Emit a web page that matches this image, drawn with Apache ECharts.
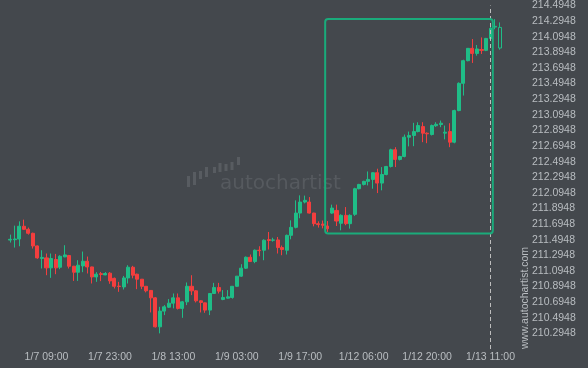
<!DOCTYPE html>
<html>
<head>
<meta charset="utf-8">
<script src="https://cdn.jsdelivr.net/npm/echarts@6/dist/echarts.min.js"></script>
<style>
html,body{margin:0;padding:0;background:#44484d;}
#c{width:588px;height:368px;}
</style>
</head>
<body>
<div id="c"></div>
<script>
// ---- data ----
var categories = [
'1/7 01:00','1/7 02:00','1/7 03:00','1/7 04:00','1/7 05:00','1/7 06:00','1/7 07:00','1/7 08:00','1/7 09:00','1/7 10:00','1/7 11:00','1/7 12:00','1/7 13:00','1/7 14:00','1/7 15:00','1/7 16:00','1/7 17:00','1/7 18:00','1/7 19:00','1/7 20:00','1/7 21:00','1/7 22:00','1/7 23:00',
'1/8 00:00','1/8 01:00','1/8 02:00','1/8 03:00','1/8 04:00','1/8 05:00','1/8 06:00','1/8 07:00','1/8 08:00','1/8 09:00','1/8 10:00','1/8 11:00','1/8 12:00','1/8 13:00','1/8 14:00','1/8 15:00','1/8 16:00','1/8 17:00','1/8 18:00','1/8 19:00','1/8 20:00','1/8 21:00','1/8 22:00','1/8 23:00',
'1/9 00:00','1/9 01:00','1/9 02:00','1/9 03:00','1/9 04:00','1/9 05:00','1/9 06:00','1/9 07:00','1/9 08:00','1/9 09:00','1/9 10:00','1/9 11:00','1/9 12:00','1/9 13:00','1/9 14:00','1/9 15:00','1/9 16:00','1/9 17:00','1/9 18:00','1/9 19:00','1/9 20:00','1/9 21:00','1/9 22:00','1/9 23:00',
'1/11 23:00',
'1/12 00:00','1/12 01:00','1/12 02:00','1/12 03:00','1/12 04:00','1/12 05:00','1/12 06:00','1/12 07:00','1/12 08:00','1/12 09:00','1/12 10:00','1/12 11:00','1/12 12:00','1/12 13:00','1/12 14:00','1/12 15:00','1/12 16:00','1/12 17:00','1/12 18:00','1/12 19:00','1/12 20:00','1/12 21:00',
'1/12 23:00',
'1/13 00:00','1/13 01:00','1/13 02:00','1/13 03:00','1/13 04:00','1/13 05:00','1/13 06:00','1/13 07:00','1/13 08:00','1/13 09:00','1/13 10:00','1/13 11:00','1/13 12:00','1/13 13:00'
];
var opens = [
211.490,211.495,211.504,211.667,211.628,211.577,211.415,211.255,211.262,211.134,
211.241,211.142,211.275,211.292,211.155,211.078,211.159,211.219,211.146,211.018,
211.060,211.044,211.066,211.000,210.900,210.890,211.005,211.142,211.053,210.989,
210.898,210.845,210.750,210.379,210.580,210.630,210.682,210.750,210.615,210.699,
210.898,210.840,210.712,210.686,210.593,210.806,210.883,210.730,210.746,210.755,
210.898,211.028,211.130,211.270,211.215,211.360,211.360,211.496,211.488,211.492,
211.394,211.360,211.551,211.653,211.836,211.977,211.977,211.836,211.700,211.695,
211.670,211.836,211.870,211.705,211.807,211.700,211.820,212.148,212.203,212.242,
212.267,212.353,212.220,212.330,212.433,212.647,212.523,212.561,212.808,212.830,
212.880,212.944,212.859,212.842,212.955,212.970,212.860,212.880,212.744,213.149,
213.498,213.788,213.946,213.881,213.930,213.920,214.073,214.218,214.214
];
var closes = [
211.500,211.504,211.667,211.628,211.577,211.415,211.262,211.268,211.134,211.254,
211.134,211.283,211.300,211.155,211.078,211.168,211.219,211.146,211.018,211.053,
211.050,211.062,210.967,210.898,210.895,211.005,211.142,211.040,210.989,210.898,
210.840,210.750,210.379,210.580,210.635,210.682,210.750,210.615,210.699,210.898,
210.840,210.712,210.691,210.593,210.806,210.883,210.836,210.755,210.763,210.898,
211.028,211.130,211.270,211.215,211.360,211.355,211.488,211.485,211.492,211.394,
211.369,211.551,211.653,211.836,211.977,211.999,211.836,211.700,211.688,211.680,
211.635,211.900,211.734,211.807,211.700,211.807,212.148,212.203,212.242,212.267,
212.353,212.220,212.330,212.433,212.647,212.523,212.561,212.808,212.830,212.880,
212.957,212.859,212.851,212.957,212.973,212.987,212.872,212.744,213.149,213.498,
213.788,213.946,213.881,213.938,213.920,214.073,214.201,214.228,213.950
];
var lows = [
211.458,211.394,211.411,211.620,211.560,211.381,211.250,211.126,211.040,211.006,
211.053,211.117,211.270,211.126,210.967,210.967,211.079,211.062,210.934,210.955,
210.964,211.040,210.930,210.870,210.827,210.857,210.934,211.000,210.861,210.861,
210.820,210.563,210.370,210.295,210.529,210.620,210.615,210.600,210.494,210.657,
210.785,210.691,210.563,210.558,210.529,210.800,210.806,210.720,210.740,210.740,
210.890,211.020,211.120,211.210,211.194,211.283,211.232,211.369,211.470,211.318,
211.296,211.305,211.500,211.640,211.770,211.960,211.830,211.666,211.650,211.640,
211.594,211.826,211.670,211.615,211.680,211.637,211.800,212.140,212.190,212.190,
212.148,212.092,212.127,212.320,212.420,212.425,212.510,212.550,212.690,212.693,
212.870,212.744,212.731,212.830,212.940,212.936,212.780,212.680,212.730,213.140,
213.341,213.780,213.759,213.852,213.874,213.910,214.050,214.190,213.929
];
var highs = [
211.560,211.675,211.730,211.752,211.650,211.585,211.420,211.360,211.318,211.318,
211.313,211.296,211.424,211.300,211.160,211.232,211.343,211.279,211.150,211.079,
211.082,211.080,211.080,211.010,210.955,211.031,211.168,211.160,211.060,210.990,
210.900,210.850,210.760,210.635,210.657,210.734,210.806,210.806,210.710,210.947,
211.040,210.850,210.720,210.690,210.810,210.942,210.942,210.849,210.849,210.900,
211.030,211.181,211.280,211.305,211.370,211.411,211.500,211.594,211.520,211.530,
211.420,211.560,211.743,211.999,212.063,212.060,212.041,211.840,211.730,211.740,
211.734,211.944,211.944,211.820,211.913,211.820,212.160,212.210,212.250,212.369,
212.360,212.404,212.425,212.440,212.660,212.680,212.570,212.842,212.880,212.992,
212.999,213.000,212.870,212.970,213.000,213.021,212.957,212.987,213.160,213.510,
213.800,213.950,214.065,213.989,214.086,214.080,214.235,214.320,214.278
];
// pattern box: [start category, end category, top price, bottom price]
var boxStart = '1/9 23:00';
var boxEnd = '1/13 11:00';
var boxTop = 214.321;
var boxBottom = 211.573;
var markerTime = '1/13 11:00';
var yMin = 210.0948, yMax = 214.4948, yStep = 0.2;

// ---- chart ----
var BG = '#44484d', UP = '#1fbd87', DOWN = '#f33e3e', TXT = '#b9bdc1';
var padCount = 4;
var axisCats = categories.concat(new Array(padCount).fill(''));
var candles = categories.map(function (c, i) {
  var item = { value: [opens[i], closes[i], lows[i], highs[i]] };
  if (i === categories.length - 1) {
    item.itemStyle = { color: BG, color0: BG, borderColor: UP, borderColor0: DOWN };
  }
  return item;
});
var chart = echarts.init(document.getElementById('c'), null, { renderer: 'canvas' });
chart.setOption({
  backgroundColor: BG,
  animation: false,
  grid: { left: 8, right: 68, top: 4.7, bottom: 19, containLabel: false },
  xAxis: {
    type: 'category', data: axisCats, boundaryGap: true,
    axisLine: { show: false }, axisTick: { show: false }, splitLine: { show: false },
    axisLabel: {
      color: TXT, fontSize: 10.5, fontFamily: 'Liberation Sans, Arial, sans-serif', margin: 3,
      interval: function (idx) { return idx % 14 === 8 && idx < categories.length; }
    }
  },
  yAxis: {
    type: 'value', position: 'right', min: yMin, max: yMax, interval: yStep, scale: true,
    axisLine: { show: false }, axisTick: { show: false }, splitLine: { show: false },
    axisLabel: {
      color: TXT, fontSize: 10.5, fontFamily: 'Liberation Sans, Arial, sans-serif', margin: 12,
      showMinLabel: false,
      formatter: function (v) {
        var k = Math.round((v - yMin) / yStep);
        return (yMin + k * yStep).toFixed(4);
      }
    }
  },
  graphic: [
    { type: 'group', left: 187, top: 157, silent: true, children: [
      { type: 'rect', shape: { x: 0, y: 20, width: 3, height: 11 }, style: { fill: '#585c61' } },
      { type: 'rect', shape: { x: 6, y: 16, width: 3, height: 13 }, style: { fill: '#585c61' } },
      { type: 'rect', shape: { x: 12, y: 15, width: 3, height: 8 }, style: { fill: '#585c61' } },
      { type: 'rect', shape: { x: 18, y: 11, width: 3, height: 10 }, style: { fill: '#585c61' } },
      { type: 'rect', shape: { x: 26, y: 11, width: 3, height: 6 }, style: { fill: '#585c61' } },
      { type: 'rect', shape: { x: 31.5, y: 7, width: 3, height: 9 }, style: { fill: '#585c61' } },
      { type: 'rect', shape: { x: 37.5, y: 8, width: 3, height: 7 }, style: { fill: '#585c61' } },
      { type: 'rect', shape: { x: 43.5, y: 6, width: 3, height: 8 }, style: { fill: '#585c61' } },
      { type: 'rect', shape: { x: 50, y: 1, width: 3, height: 8 }, style: { fill: '#585c61' } }
    ]},
    { type: 'text', left: 220, top: 174, silent: true,
      style: { text: 'autochartist', fill: '#565a5f', font: '20px "DejaVu Sans"' } },
    { type: 'text', x: 519.5, y: 349, rotation: Math.PI / 2, silent: true,
      style: { text: 'www.autochartist.com', fill: TXT, font: '10.5px "Liberation Sans"', textVerticalAlign: 'top', textAlign: 'left' } }
  ],
  series: [
    {
      type: 'candlestick', data: candles, barWidth: '78%',
      itemStyle: { color: UP, color0: DOWN, borderColor: UP, borderColor0: DOWN, borderWidth: 1 },
      markLine: {
        silent: true, symbol: 'none', label: { show: false },
        lineStyle: { color: '#bdbdbd', width: 1, type: [4, 3] },
        data: [{ xAxis: markerTime }]
      }
    },
    {
      type: 'custom', silent: true, z: 5,
      data: [[boxStart, boxEnd, boxTop, boxBottom]],
      encode: { x: [0, 1], y: [2, 3] },
      renderItem: function (params, api) {
        var half = api.size([1, 0])[0] / 2;
        var p1 = api.coord([api.value(0), api.value(2)]);
        var p2 = api.coord([api.value(1), api.value(3)]);
        return {
          type: 'rect',
          shape: { x: p1[0] - half, y: p1[1], width: p2[0] - p1[0] + 2 * half, height: p2[1] - p1[1], r: 3 },
          style: { fill: 'none', stroke: '#1aab7b', lineWidth: 2 }
        };
      }
    }
  ]
});
</script>
</body>
</html>
